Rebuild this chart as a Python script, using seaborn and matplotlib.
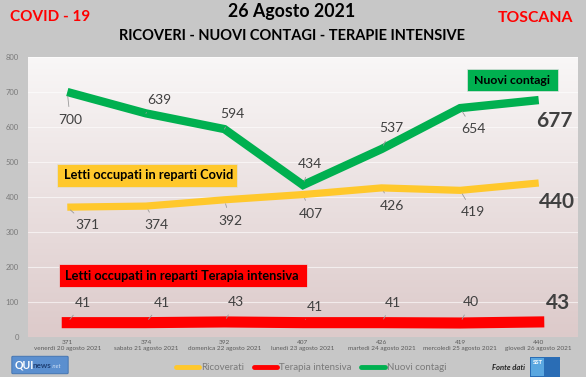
import numpy as np
import pandas as pd
import matplotlib
matplotlib.use("Agg")
import matplotlib.pyplot as plt
import seaborn as sns
from matplotlib.patches import Rectangle, FancyBboxPatch
from matplotlib.lines import Line2D

# ---------------- data ----------------
dates = ["venerdì 20 agosto 2021", "sabato 21 agosto 2021", "domenica 22 agosto 2021",
         "lunedì 23 agosto 2021", "martedì 24 agosto 2021", "mercoledì 25 agosto 2021",
         "giovedì 26 agosto 2021"]
ricoverati = [371, 374, 392, 407, 426, 419, 440]
terapia = [41, 41, 43, 41, 41, 40, 43]
contagi = [700, 639, 594, 434, 537, 654, 677]
y_ticks = [0, 100, 200, 300, 400, 500, 600, 700, 800]

# label offsets (pixels) for data labels
off_contagi = [(3, -28), (13, 13), (8, 15), (7, 21), (10, 21), (13, -21), (16, -21)]
off_ricov = [(20, -18), (11, -19), (6, -21), (8, -19), (10, -18), (13, -22), (18, -19)]
off_ter = [(16, 20), (16, 20), (11, 20), (12, 16), (11, 20), (11, 21), (19, 19)]

sns.set_theme(style="white")
plt.rcParams["font.family"] = ["Lato", "DejaVu Sans"]

W, H = 586, 380
fig = plt.figure(figsize=(W / 100, H / 100), dpi=100)
fig.patch.set_facecolor("#c7c7c7")

def fx(x):
    return x / W

def fy(y):
    return 1 - y / H

# axes: x 28..578, y 57..337 (pixels)
ax = fig.add_axes([fx(28), fy(337), (578 - 28) / W, (337 - 57) / H])

# gradient background
grad = np.linspace(0, 1, 256)[:, None]
top = np.array([0.975, 0.968, 0.968])
bot = np.array([0.865, 0.792, 0.792])
img = top[None, None, :] * (1 - grad[:, :, None]) + bot[None, None, :] * grad[:, :, None]
ax.imshow(img, extent=[0, 1, 0, 1], transform=ax.transAxes, aspect="auto", zorder=0)

df = pd.DataFrame({"idx": np.arange(len(dates)), "ricoverati": ricoverati,
                   "terapia": terapia, "contagi": contagi})

sns.lineplot(data=df, x="idx", y="contagi", ax=ax, color="#00b050", lw=6.0,
             solid_capstyle="butt", solid_joinstyle="miter", zorder=3)
sns.lineplot(data=df, x="idx", y="ricoverati", ax=ax, color="#ffc82c", lw=5.2,
             solid_capstyle="butt", solid_joinstyle="miter", zorder=3)
sns.lineplot(data=df, x="idx", y="terapia", ax=ax, color="#ff0000", lw=8.0,
             solid_capstyle="projecting", solid_joinstyle="miter", zorder=3)

ax.set_xlim(-0.5, len(dates) - 0.5)
ax.set_ylim(0, 800)
ax.set_yticks(y_ticks)
ax.set_yticklabels([str(v) for v in y_ticks])
ax.set_xticks(np.arange(len(dates)))
ax.set_xticklabels([f"{r}\n{d}" for r, d in zip(ricoverati, dates)], linespacing=1.3)
ax.tick_params(axis="y", labelsize=5.5, labelcolor="#7a7a7a", length=0, pad=6.5)
ax.tick_params(axis="x", labelsize=4.6, labelcolor="#595959", length=0, pad=2)
ax.set_xlabel("")
ax.set_ylabel("")
for s in ax.spines.values():
    s.set_visible(False)
ax.grid(axis="y", color="white", alpha=0.6, lw=0.8)
ax.set_axisbelow(True)

lead = dict(arrowstyle="-", color="#9a9a9a", lw=0.6, shrinkA=3, shrinkB=3)

def labels(vals, offs, last_big=True):
    n = len(vals)
    for i, (v, (dx, dy)) in enumerate(zip(vals, offs)):
        big = last_big and i == n - 1
        ax.annotate(str(v), xy=(i, v), xytext=(dx, dy), textcoords="offset pixels",
                    ha="center", va="center",
                    fontsize=15 if big else 10, fontweight="bold" if big else "normal",
                    color="#404040", zorder=5,
                    arrowprops=None if big else lead)

labels(contagi, off_contagi)
labels(ricoverati, off_ricov)
labels(terapia, off_ter)

# in-plot boxes
def box(x0, y0, x1, y1, color, text, fs=8.6, ha="center", pad=0):
    fig.patches.append(Rectangle((fx(x0), fy(y1)), (x1 - x0) / W, (y1 - y0) / H,
                                 transform=fig.transFigure, facecolor=color,
                                 edgecolor="#e0e0e0", lw=0.5, zorder=6))
    tx = (x0 + x1) / 2 if ha == "center" else x0 + pad
    fig.text(fx(tx), fy((y0 + y1) / 2), text, ha=ha, va="center", fontsize=fs,
             fontweight="bold", color="black", zorder=7)

box(467, 69, 558, 91, "#00b050", "Nuovi contagi", fs=8.8)
box(57, 164, 237, 187, "#ffc82c", "Letti occupati in reparti Covid", fs=9.2, ha="left", pad=7)
box(59, 264, 307, 287, "#ff0000", "Letti occupati in reparti Terapia intensiva", fs=9.2,
    ha="left", pad=6)

# titles
fig.text(fx(50), fy(17), "COVID - 19", ha="center", va="center", fontsize=11,
         fontweight="bold", color="#ff0000")
fig.text(fx(292), fy(12), "26 Agosto 2021", ha="center", va="center", fontsize=12.8,
         fontweight="bold", color="black")
fig.text(fx(292), fy(36), "RICOVERI - NUOVI CONTAGI - TERAPIE INTENSIVE", ha="center",
         va="center", fontsize=10.5, fontweight="bold", color="black")
fig.text(fx(535), fy(18), "TOSCANA", ha="center", va="center", fontsize=11.3,
         fontweight="bold", color="#ff0000")

# legend
handles = [Line2D([], [], color="#ffc82c", lw=3.5),
           Line2D([], [], color="#ff0000", lw=3.5),
           Line2D([], [], color="#00b050", lw=3.5)]
leg = fig.legend(handles, ["Ricoverati", "Terapia intensiva", "Nuovi contagi"],
                 loc="center", bbox_to_anchor=(fx(311), fy(368)), ncol=3, frameon=False,
                 fontsize=7, handlelength=2.4, handletextpad=0.2, columnspacing=1.0)
for t in leg.get_texts():
    t.set_color("#7a7a7a")

# logos / source
fig.patches.append(FancyBboxPatch((fx(13), fy(373)), (67 - 13) / W, (373 - 357) / H,
                                  boxstyle="round,pad=0.002", transform=fig.transFigure,
                                  facecolor="#5b8fcf", edgecolor="#3d6fae", lw=0.6, zorder=6))
fig.text(fx(14.5), fy(365), "QUI", ha="left", va="center", fontsize=7.6, fontweight="bold",
         color="white", zorder=7)
fig.text(fx(32.5), fy(366), "news", ha="left", va="center", fontsize=5.8, fontweight="bold",
         color="#1f3f73", zorder=7)
fig.text(fx(51.5), fy(367), ".net", ha="left", va="center", fontsize=4.4, style="italic",
         color="#cfe0f5", zorder=7)
fig.text(fx(508), fy(367), "Fonte dati", ha="center", va="center", fontsize=5.5,
         fontweight="bold", style="italic", color="#222222")
fig.patches.append(Rectangle((fx(530), fy(377)), 30 / W, 20 / H, transform=fig.transFigure,
                             facecolor="#2a6db5", edgecolor="none", zorder=6))
fig.patches.append(Rectangle((fx(531), fy(376)), 13 / W, 18 / H, transform=fig.transFigure,
                             facecolor="#5aa7e0", edgecolor="none", zorder=6))
fig.text(fx(537.5), fy(363), "SST", ha="center", va="center", fontsize=4.3,
         fontweight="bold", color="white", zorder=7)
fig.patches.append(Rectangle((0, 0), 1, 3 / H, transform=fig.transFigure,
                             facecolor="white", edgecolor="none", zorder=6))

fig.savefig("out.png", dpi=100, facecolor=fig.get_facecolor())
